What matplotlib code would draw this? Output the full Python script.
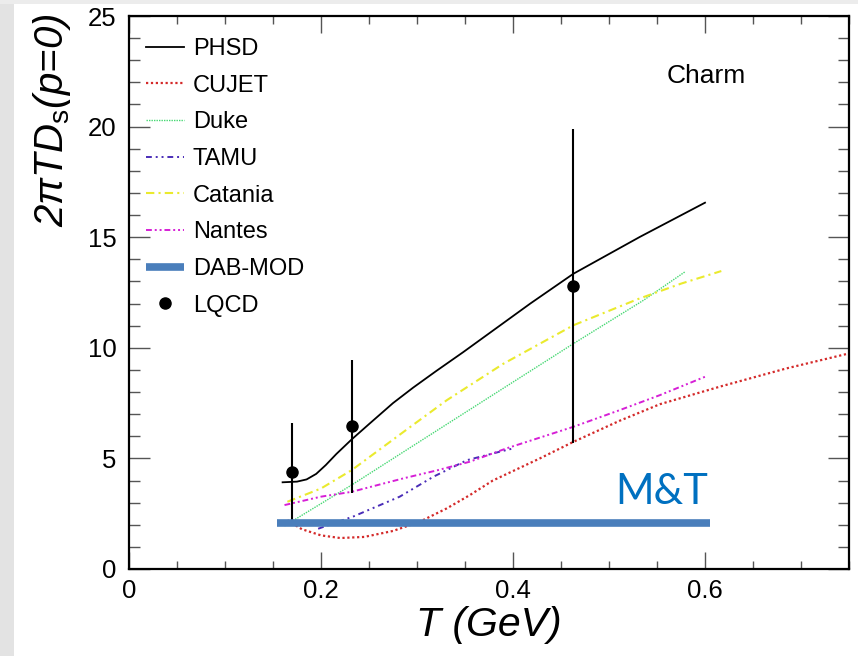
import matplotlib
matplotlib.use("Agg")
import matplotlib.pyplot as plt
from matplotlib.patches import Rectangle
from matplotlib.ticker import MultipleLocator

plt.rcParams['font.family'] = ['Liberation Sans', 'DejaVu Sans']
plt.rcParams['mathtext.fontset'] = 'custom'
plt.rcParams['mathtext.rm'] = 'Liberation Sans'
plt.rcParams['mathtext.it'] = 'Liberation Sans:italic'

# model curves: temperature (GeV) vs 2*pi*T*Ds
phsd_T = [0.16, 0.175, 0.185, 0.195, 0.205, 0.216, 0.232, 0.25, 0.275, 0.296, 0.32, 0.348, 0.383, 0.418, 0.463, 0.532, 0.6]
phsd_D = [3.92, 3.95, 4.05, 4.3, 4.7, 5.2, 5.86, 6.55, 7.5, 8.2, 8.95, 9.8, 10.9, 12.0, 13.35, 15.01, 16.56]

cujet_T = [0.165, 0.18, 0.2, 0.22, 0.245, 0.275, 0.303, 0.331, 0.355, 0.379, 0.428, 0.463, 0.511, 0.553, 0.616, 0.685, 0.76]
cujet_D = [2.2, 1.8, 1.52, 1.4, 1.45, 1.72, 2.14, 2.74, 3.34, 4.0, 5.0, 5.75, 6.7, 7.45, 8.25, 9.07, 9.85]

duke_T = [0.162, 0.232, 0.324, 0.4, 0.463, 0.536, 0.579]
duke_D = [1.95, 3.8, 6.35, 8.45, 10.19, 12.15, 13.43]

tamu_T = [0.197, 0.234, 0.282, 0.317, 0.352, 0.386, 0.4]
tamu_D = [1.82, 2.38, 3.27, 4.17, 4.92, 5.3, 5.45]

catania_T = [0.165, 0.2, 0.232, 0.286, 0.331, 0.39, 0.463, 0.53, 0.575, 0.617]
catania_D = [3.04, 3.64, 4.47, 6.2, 7.63, 9.28, 11.02, 12.2, 12.9, 13.47]

nantes_T = [0.162, 0.2, 0.232, 0.286, 0.32, 0.355, 0.393, 0.463, 0.511, 0.553, 0.6]
nantes_D = [2.89, 3.27, 3.49, 4.1, 4.45, 4.85, 5.45, 6.43, 7.18, 7.86, 8.69]

dabmod_T = [0.154, 0.605]
dabmod_D = [2.1, 2.1]

lqcd_T = [0.17, 0.232, 0.462]
lqcd_D = [4.4, 6.45, 12.8]
lqcd_err = [2.2, 3.0, 7.1]

fig = plt.figure(figsize=(8.58, 6.56), dpi=100)
fig.patch.set_facecolor('white')
# grey screenshot border
fig.patches.append(Rectangle((0, 0), 14 / 858, 1, transform=fig.transFigure,
                             facecolor='#e3e3e3', edgecolor='none', zorder=0))
fig.patches.append(Rectangle((0, 1 - 4 / 656), 1, 4 / 656, transform=fig.transFigure,
                             facecolor='#ececec', edgecolor='none', zorder=0))

ax = fig.add_axes([129 / 858, 1 - 569 / 656, 720 / 858, 553 / 656])

ax.plot(phsd_T, phsd_D, color='black', lw=1.3, label='PHSD')
ax.plot(cujet_T, cujet_D, color='#d42a2a', lw=1.6, ls=(0, (1, 1.2)), label='CUJET')
ax.plot(duke_T, duke_D, color='#45d872', lw=1.0, ls=(0, (1, 0.8)), label='Duke')
ax.plot(tamu_T, tamu_D, color='#4a2db8', lw=1.4, ls=(0, (3, 2, 1, 2, 1, 2)), label='TAMU')
ax.plot(catania_T, catania_D, color='#eaea2e', lw=1.5, ls=(0, (4, 2, 1, 2)), label='Catania')
ax.plot(nantes_T, nantes_D, color='#d61fd6', lw=1.4, ls=(0, (3, 1.5, 1, 1.5, 1, 1.5)), label='Nantes')
ax.plot(dabmod_T, dabmod_D, color='#4a7ebb', lw=5.5, solid_capstyle='butt', label='DAB-MOD', zorder=5)
ax.errorbar(lqcd_T, lqcd_D, yerr=lqcd_err, fmt='none', ecolor='black',
            elinewidth=1.5, capsize=0, zorder=4)
ax.plot(lqcd_T, lqcd_D, 'o', color='black', ms=8, label='LQCD', zorder=4)

ax.set_xlim(0, 0.75)
ax.set_ylim(0, 25)
ax.xaxis.set_major_locator(MultipleLocator(0.2))
ax.xaxis.set_minor_locator(MultipleLocator(0.05))
ax.yaxis.set_major_locator(MultipleLocator(5))
ax.yaxis.set_minor_locator(MultipleLocator(1))
ax.set_xticks([0, 0.2, 0.4, 0.6])
ax.set_xticklabels(['0', '0.2', '0.4', '0.6'])
ax.tick_params(axis='both', which='both', direction='in', top=True, right=True,
               colors='#555555', labelcolor='black', labelsize=18.5, width=1)
ax.tick_params(axis='x', which='major', length=12, pad=7)
ax.tick_params(axis='x', which='minor', length=6)
ax.tick_params(axis='y', which='major', length=15, pad=9)
ax.tick_params(axis='y', which='minor', length=8)
for s in ax.spines.values():
    s.set_linewidth(1.6)

ax.set_xlabel('T (GeV)', fontsize=29.5, fontstyle='italic', labelpad=2)
fig.text(52 / 858, 1 - 120 / 656, r'2$\pi$TD$_{\mathrm{s}}$(p=0)', fontsize=29,
         fontstyle='italic', rotation=90, ha='center', va='center')

ax.text(0.560, 22.3, 'Charm', fontsize=19, va='center', ha='left')
ax.text(0.506, 2.94, 'M&T', fontsize=30, color='#0070c0', family='Lato',
        va='baseline', ha='left')

ax.legend(loc='upper left', bbox_to_anchor=(0.0236, 0.960), frameon=False,
          fontsize=17, borderpad=0, borderaxespad=0, handlelength=1.61,
          handletextpad=0.38, labelspacing=0.62)

fig.savefig('out.png', dpi=100)
